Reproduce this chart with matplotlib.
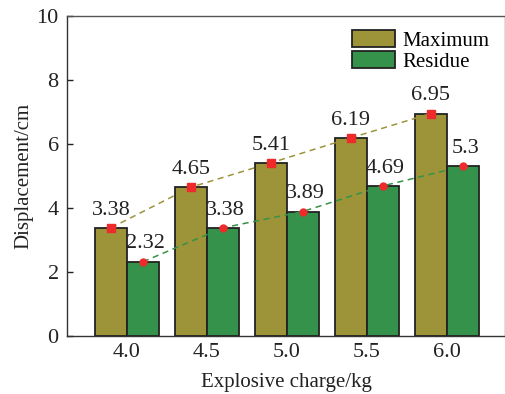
import matplotlib
matplotlib.use("Agg")
import matplotlib.pyplot as plt
import numpy as np

charges = ["4.0", "4.5", "5.0", "5.5", "6.0"]
maximum = [3.38, 4.65, 5.41, 6.19, 6.95]
residue = [2.32, 3.38, 3.89, 4.69, 5.3]
max_labels = ["3.38", "4.65", "5.41", "6.19", "6.95"]
res_labels = ["2.32", "3.38", "3.89", "4.69", "5.3"]

plt.rcParams["font.family"] = ["Liberation Serif", "DejaVu Serif"]
plt.rcParams["font.size"] = 15

olive = "#9d9339"
green = "#35924a"
red = "#ee2a2a"
ink = "#222222"

fig = plt.figure(figsize=(5.06, 3.94), dpi=100)
ax = fig.add_axes([67 / 506, 58 / 394, 438 / 506, 320 / 394])

x = np.arange(len(charges))
w = 0.4
xm = x - w / 2
xr = x + w / 2

ax.bar(xm, maximum, width=w, color=olive, edgecolor=ink, linewidth=1.3,
       label="Maximum", zorder=2)
ax.bar(xr, residue, width=w, color=green, edgecolor=ink, linewidth=1.3,
       label="Residue", zorder=2)

ax.plot(xm, maximum, ls=(0, (4, 3)), color=olive, lw=1.1, zorder=3)
ax.plot(xr, residue, ls=(0, (4, 3)), color=green, lw=1.1, zorder=3)
ax.plot(xm, maximum, ls="none", marker="s", ms=6, color=red, zorder=4)
ax.plot(xr, residue, ls="none", marker="o", ms=5, color=red, zorder=4)

for xi, v, s in zip(xm, maximum, max_labels):
    ax.annotate(s, (xi, v), xytext=(0, 6), textcoords="offset points",
                ha="center", va="bottom", fontsize=16, color=ink)
for xi, v, s in zip(xr, residue, res_labels):
    ax.annotate(s, (xi, v), xytext=(2, 6), textcoords="offset points",
                ha="center", va="bottom", fontsize=16, color=ink)

ax.set_xlim(-0.75, 4.73)
ax.set_ylim(0, 10)
ax.set_xticks(x)
ax.set_xticklabels(charges, fontsize=16)
ax.set_yticks([0, 2, 4, 6, 8, 10])
ax.set_yticklabels(["0", "2", "4", "6", "8", "10"], fontsize=16)
ax.tick_params(axis="y", direction="in", length=4, width=1, pad=6, colors=ink)
ax.tick_params(axis="x", length=0, pad=5, colors=ink)
for sp in ax.spines.values():
    sp.set_color("#333333")
    sp.set_linewidth(1.0)
ax.spines["right"].set_color("#666666")
ax.spines["top"].set_color("#555555")

ax.set_xlabel("Explosive charge/kg", fontsize=15, color=ink, labelpad=8)
ax.set_ylabel("Displacement/cm", fontsize=15, color=ink, labelpad=2)

leg = ax.legend(loc="upper left", bbox_to_anchor=(0.651, 0.956), frameon=False,
                handlelength=2.05, handleheight=0.9, labelspacing=0.0,
                handletextpad=0.35, borderaxespad=0.0, borderpad=0.0,
                fontsize=15)

fig.savefig("out.png", dpi=100)
